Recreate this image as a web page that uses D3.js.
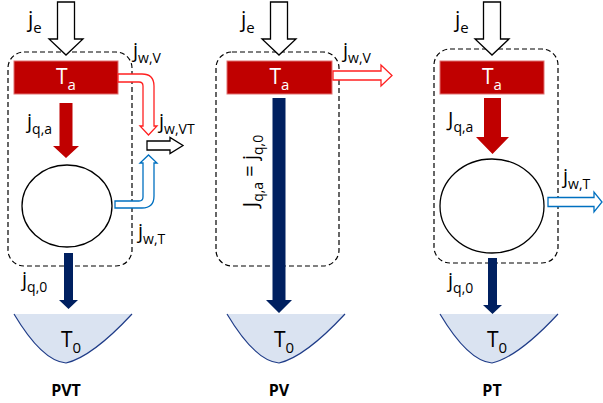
<!DOCTYPE html>
<html>
<head>
<meta charset="utf-8">
<style>
  body { margin: 0; background: #fff; }
  text { font-family: "Open Sans", "Liberation Sans", sans-serif; }
</style>
</head>
<body>
<div id="chart"></div>
<script src="https://cdn.jsdelivr.net/npm/d3@7"></script>
<script>
(function(){
  "use strict";

  // panels and their labels
  var panels = ["PVT", "PV", "PT"];
  var reservoirTop = ["T", "a"];
  var reservoirBottom = ["T", "0"];
  var inLabel = ["j", "e"];
  // flux labels: [main, subscript, dx from panel centre, baseline y]
  var fluxLabels = [
    [["j", "w,V", 67, 57], ["j", "q,a", -39, 128], ["j", "w,VT", 93, 128], ["j", "w,T", 72, 238], ["j", "q,0", -44, 286]],
    [["j", "w,V", 64, 57]],
    [["J", "q,a", -44, 126], ["j", "w,T", 71, 183], ["j", "q,0", -44, 287]]
  ];
  var rotatedLabel = [["J", "q,a"], [" = ", ""], ["j", "q,0"]];

  var W = 603, H = 403;
  var red = "#C00000", navy = "#002060", blue = "#0070C0";

  var x = d3.scalePoint().domain(panels).range([66, 492]);

  var svg = d3.select("#chart").append("svg")
    .attr("width", W).attr("height", H);

  // block arrow pointing down
  function downArrow(cx, y0, y1, sw, hw, hb) {
    return "M" + (cx - sw) + "," + y0 + "L" + (cx + sw) + "," + y0 +
      "L" + (cx + sw) + "," + hb + "L" + (cx + hw) + "," + hb +
      "L" + cx + "," + y1 + "L" + (cx - hw) + "," + hb +
      "L" + (cx - sw) + "," + hb + "Z";
  }
  // block arrow pointing right
  function rightArrow(x0, x1, cy, sw, hw, hb) {
    return "M" + x0 + "," + (cy - sw) + "L" + hb + "," + (cy - sw) +
      "L" + hb + "," + (cy - hw) + "L" + x1 + "," + cy +
      "L" + hb + "," + (cy + hw) + "L" + hb + "," + (cy + sw) +
      "L" + x0 + "," + (cy + sw) + "Z";
  }

  // text with subscripts, parts = [[main, sub], ...]
  function subText(g, parts, px, py, size, subSize, color, anchor) {
    var t = g.append("text")
      .attr("x", px).attr("y", py)
      .attr("fill", color || "#000")
      .attr("font-size", size)
      .attr("text-anchor", anchor || "start");
    var down = false;
    parts.forEach(function(p){
      var m = t.append("tspan").text(p[0]).attr("font-size", size);
      if (down) { m.attr("dy", -6); down = false; }
      if (p[1]) {
        t.append("tspan").text(p[1]).attr("font-size", subSize).attr("dy", 6);
        down = true;
      }
    });
    return t;
  }

  var geo = [
    { box: [8, 52, 132, 266], rect: [14, 61, 118, 94] },
    { box: [216, 52, 339, 266], rect: [227, 61, 332, 94] },
    { box: [434, 49, 558, 263], rect: [440, 61, 544, 94] }
  ];

  panels.forEach(function(name, i){
    var c = x(name);
    var g = svg.append("g");
    var gm = geo[i];

    // dashed system boundary
    g.append("rect")
      .attr("x", gm.box[0]).attr("y", gm.box[1])
      .attr("width", gm.box[2] - gm.box[0]).attr("height", gm.box[3] - gm.box[1])
      .attr("rx", 16).attr("ry", 16)
      .attr("fill", "none").attr("stroke", "#000")
      .attr("stroke-width", 1.2).attr("stroke-dasharray", "5,3");

    // incoming flux arrow
    g.append("path")
      .attr("d", downArrow(c, 2, 55, 8.5, 17, 39))
      .attr("fill", "#fff").attr("stroke", "#000").attr("stroke-width", 1.3);
    subText(g, [inLabel], c - 38 + (i === 2 ? 1 : 0), 27, 21, 15);

    // absorber
    g.append("rect")
      .attr("x", gm.rect[0]).attr("y", gm.rect[1])
      .attr("width", gm.rect[2] - gm.rect[0]).attr("height", gm.rect[3] - gm.rect[1])
      .attr("fill", red).attr("stroke", "#e07070").attr("stroke-width", 1);
    subText(g, [reservoirTop], (gm.rect[0] + gm.rect[2]) / 2, 84, 21, 15, "#fff", "middle");

    // heat sink bowl
    var bl = c - 52, br = c + 66, bt = 314, bb = 363;
    var curve = "M" + bl + "," + bt + "Q" + (c - 24) + "," + (bb - 2) + " " + c + "," + bb +
      "Q" + (c + 26) + "," + (bb - 6) + " " + br + "," + bt;
    g.append("path").attr("d", curve + "Z").attr("fill", "#DAE3F1").attr("stroke", "none");
    g.append("path").attr("d", curve).attr("fill", "none").attr("stroke", "#1F3C88").attr("stroke-width", 1.2);
    subText(g, [reservoirBottom], c - 5, 347, 21, 15);

    // panel title
    g.append("text").attr("x", c).attr("y", 396)
      .attr("text-anchor", "middle").attr("font-size", 16).attr("font-weight", "bold")
      .text(name);

    fluxLabels[i].forEach(function(l){
      subText(g, [[l[0], l[1]]], c + l[2], l[3], 20, 14);
    });
  });

  // PVT specifics
  var c0 = x("PVT");
  svg.append("path").attr("d", downArrow(c0, 103, 158, 6.5, 13, 146)).attr("fill", red);
  svg.append("ellipse").attr("cx", c0 + 1).attr("cy", 206).attr("rx", 45).attr("ry", 41)
    .attr("fill", "#fff").attr("stroke", "#000").attr("stroke-width", 1.3);
  svg.append("path")
    .attr("d", "M118,74L142,74Q154,74 154,86L154,126L157,126L148.5,135L140,126L143,126L143,86Q143,82 139,82L118,82Z")
    .attr("fill", "#fff").attr("stroke", "#ff2020").attr("stroke-width", 1.3);
  svg.append("path")
    .attr("d", "M115,208L142,208Q154,208 154,196L154,163L157,163L148.5,155L140,163L143,163L143,197Q143,201 139,201L115,201Z")
    .attr("fill", "#fff").attr("stroke", blue).attr("stroke-width", 1.3);
  svg.append("path").attr("d", rightArrow(147, 183, 145.5, 4.5, 8, 170))
    .attr("fill", "#fff").attr("stroke", "#000").attr("stroke-width", 1.3);
  svg.append("path").attr("d", downArrow(c0 + 2.5, 253, 309, 4.5, 9.5, 300)).attr("fill", navy);

  // PV specifics
  var c1 = x("PV");
  svg.append("path").attr("d", downArrow(c1, 98, 313, 6.5, 13, 300)).attr("fill", navy);
  svg.append("path").attr("d", rightArrow(333, 392, 75.5, 4.5, 10.5, 381))
    .attr("fill", "#fff").attr("stroke", "#ff2020").attr("stroke-width", 1.3);
  var rt = subText(svg, rotatedLabel, 0, 0, 20, 14, "#000", "middle");
  rt.attr("transform", "translate(257,171) rotate(-90)");

  // PT specifics
  var c2 = x("PT");
  svg.append("path").attr("d", downArrow(c2 + 0.5, 98, 154, 8.5, 16.5, 137)).attr("fill", red);
  svg.append("ellipse").attr("cx", c2).attr("cy", 206).attr("rx", 52).attr("ry", 47)
    .attr("fill", "#fff").attr("stroke", "#000").attr("stroke-width", 1.3);
  svg.append("path").attr("d", rightArrow(548, 602, 202, 4.5, 10, 594))
    .attr("fill", "#fff").attr("stroke", blue).attr("stroke-width", 1.3);
  svg.append("path").attr("d", downArrow(c2 + 0.5, 258, 314, 4.5, 9.5, 305)).attr("fill", navy);
})();
</script>
</body>
</html>
